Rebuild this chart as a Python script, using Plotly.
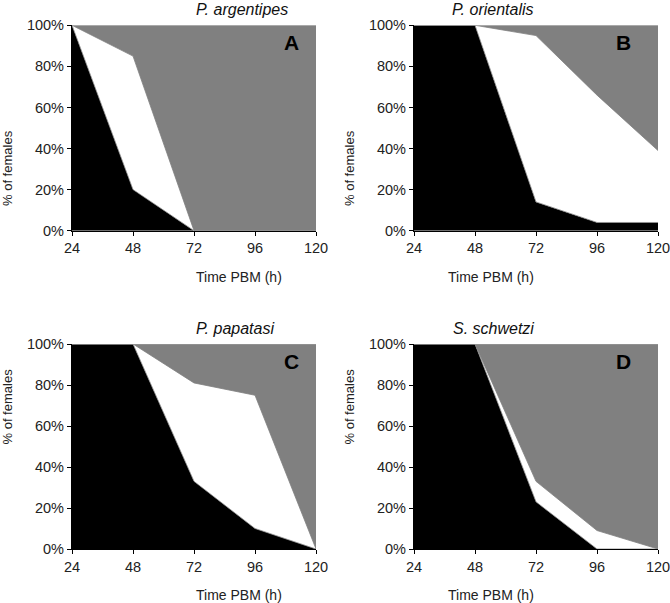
import plotly.graph_objects as go

hours = [24, 48, 72, 96, 120]
titles = ["P. argentipes", "P. orientalis", "P. papatasi", "S. schwetzi"]
letters = ["A", "B", "C", "D"]
# cumulative boundaries (% of females)
black_A = [100, 20, 0, 0, 0]
upper_A = [100, 85, 0, 0, 0]
black_B = [100, 100, 14, 4, 4]
upper_B = [100, 100, 95, 66, 39]
black_C = [100, 100, 33, 10, 0]
upper_C = [100, 100, 81, 75, 0]
black_D = [100, 100, 23, 0, 0]
upper_D = [100, 100, 33, 9, 0]
y_ticks = [0, 20, 40, 60, 80, 100]
y_ticklabels = ["0%", "20%", "40%", "60%", "80%", "100%"]

panels = [(black_A, upper_A), (black_B, upper_B), (black_C, upper_C), (black_D, upper_D)]

W, H = 670, 603
xdom = [[72 / W, 316 / W], [414 / W, 658 / W]]
ydom = [[1 - 230.7 / H, 1 - 25.3 / H], [1 - 549 / H, 1 - 344 / H]]

fig = go.Figure()
FONT = "Liberation Sans, Arial, sans-serif"

for i, (blk, upp) in enumerate(panels):
    col, row = i % 2, i // 2
    xa = "x" if i == 0 else f"x{i+1}"
    ya = "y" if i == 0 else f"y{i+1}"
    white = [u - b for u, b in zip(upp, blk)]
    gray = [100 - u for u in upp]
    sg = f"s{i}"
    fig.add_trace(go.Scatter(x=hours, y=blk, stackgroup=sg, mode="lines",
                             line=dict(color="#808080", width=0.8), fillcolor="#000000",
                             xaxis=xa, yaxis=ya, showlegend=False))
    fig.add_trace(go.Scatter(x=hours, y=white, stackgroup=sg, mode="lines",
                             line=dict(color="#808080", width=0.8), fillcolor="#ffffff",
                             xaxis=xa, yaxis=ya, showlegend=False))
    fig.add_trace(go.Scatter(x=hours, y=gray, stackgroup=sg, mode="lines",
                             line=dict(color="#a0a0a0", width=1), fillcolor="#808080",
                             xaxis=xa, yaxis=ya, showlegend=False))
    axk = "xaxis" if i == 0 else f"xaxis{i+1}"
    ayk = "yaxis" if i == 0 else f"yaxis{i+1}"
    fig.layout[axk] = dict(domain=xdom[col], anchor=ya, range=[24, 120], automargin=False,
                           tickvals=hours, ticktext=[str(h) for h in hours],
                           ticklabeloverflow="allow",
                           showgrid=False, zeroline=False, showline=True, linecolor="black",
                           linewidth=1.2, ticks="outside", ticklen=4, tickcolor="black",
                           tickfont=dict(family=FONT, size=14.5, color="#222"))
    fig.layout[ayk] = dict(domain=ydom[row], anchor=xa, range=[0, 100], automargin=False,
                           tickvals=y_ticks, ticktext=y_ticklabels,
                           ticklabeloverflow="allow",
                           showgrid=False, zeroline=False, showline=True, linecolor="black",
                           linewidth=1.2, ticks="outside", ticklen=4, tickcolor="black",
                           tickfont=dict(family=FONT, size=14.5, color="#222"))
    x0, x1 = xdom[col]
    y0, y1 = ydom[row]
    # title
    fig.add_annotation(x=(x0 + x1) / 2, y=y1 + 16 / H, xref="paper", yref="paper",
                       text=f"<i>{titles[i]}</i>", showarrow=False, yanchor="middle",
                       font=dict(family=FONT, size=16, color="#111"))
    # panel letter
    fig.add_annotation(x=x1 - 25 / W, y=y1 - 4 / H, xref="paper", yref="paper",
                       text=f"<b>{letters[i]}</b>", showarrow=False, yanchor="top",
                       font=dict(family=FONT, size=21, color="black"))
    # x title
    fig.add_annotation(x=(x0 + x1) / 2, y=y0 - 46 / H, xref="paper", yref="paper",
                       text="Time PBM (h)", showarrow=False, yanchor="middle",
                       font=dict(family=FONT, size=14, color="#222"))
    # y title
    fig.add_annotation(x=x0 - 65 / W, y=(y0 + y1) / 2, xref="paper", yref="paper",
                       text="% of females", showarrow=False, textangle=-90,
                       xanchor="center", font=dict(family=FONT, size=13, color="#222"))

fig.update_layout(width=W, height=H, margin=dict(l=0, r=0, t=0, b=0, pad=0),
                  plot_bgcolor="white", paper_bgcolor="white")
fig.write_html("out.html", config={"displayModeBar": False},
               post_script="document.body.style.margin='0';document.body.style.padding='0';")
